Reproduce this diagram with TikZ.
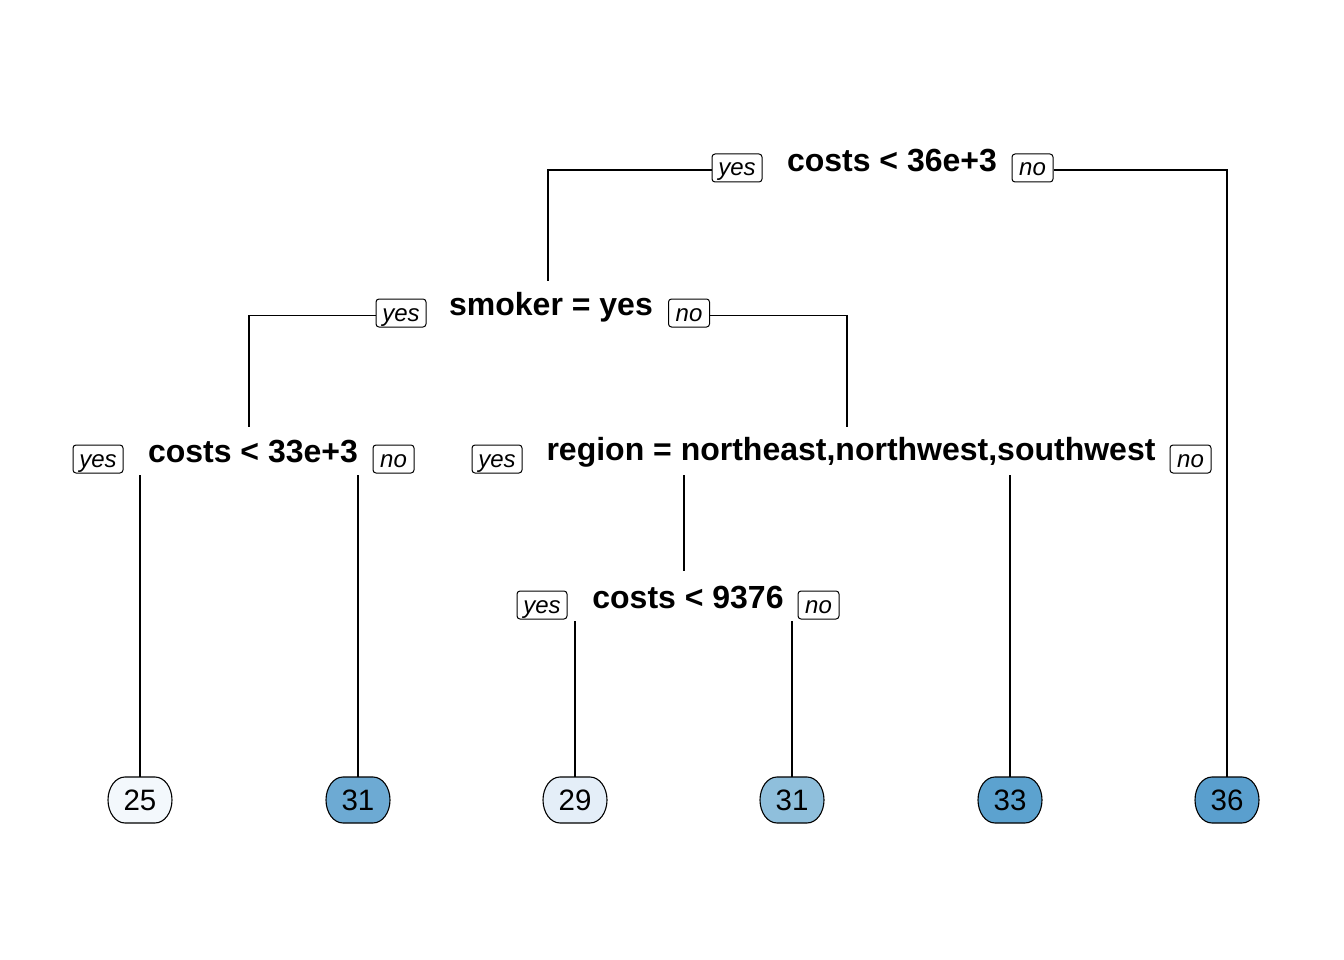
\documentclass[tikz,border=0pt]{standalone}
\usepackage{fontspec}
\setmainfont{Liberation Sans}
\definecolor{lf25}{HTML}{F3F8FC}
\definecolor{lf31a}{HTML}{6DAAD3}
\definecolor{lf29}{HTML}{E4EEF8}
\definecolor{lf31b}{HTML}{8FBFDC}
\definecolor{lf33}{HTML}{5CA2CF}
\definecolor{lf36}{HTML}{5A9FCE}
\tikzset{
  conn/.style={line width=1.1pt, black},
  split/.style={anchor=base, inner sep=0pt, font=\bfseries\fontsize{32}{34}\selectfont},
  ansbox/.style={draw, line width=1pt, rounded corners=3pt, inner xsep=0pt, inner ysep=0pt,
     text height=22pt, text depth=6pt, font=\itshape\fontsize{24}{26}\selectfont},
  yesbox/.style={ansbox, minimum width=50pt},
  nobox/.style={ansbox, minimum width=41pt},
  leaf/.style={minimum width=64pt, minimum height=46pt, inner sep=0pt, font=\fontsize{29.5}{31}\selectfont},
  leafshape/.style={draw, line width=1.1pt},
}
\newcommand\leafbox[3]{%
  \filldraw[leafshape, fill=#3] (#1-15,#2-23) -- (#1+15,#2-23)
    arc[start angle=270,end angle=360,x radius=17,y radius=23]
    arc[start angle=0,end angle=90,x radius=17,y radius=23] -- (#1-15,#2+23)
    arc[start angle=90,end angle=180,x radius=17,y radius=23]
    arc[start angle=180,end angle=270,x radius=17,y radius=23] -- cycle;}
\begin{document}
\begin{tikzpicture}[x=1pt,y=-1pt]
\useasboundingbox (0,0) rectangle (1344,960);
% split labels
\node[split] (s1) at (892,172) {costs < 36e+3};
\node[split] (s2) at (551,315) {smoker = yes};
\node[split] (s4) at (253,462) {costs < 33e+3};
\node[split] (s5) at (851,460) {region = northeast,northwest,southwest};
\node[split] (s11) at (688,608) {costs < 9376};
% yes/no boxes
\node[yesbox] (y1) at (737,168) {yes};
\node[nobox] (n1) at (1032.5,168) {no};
\node[yesbox] (y2) at (401,313) {yes};
\node[nobox] (n2) at (689,313) {no};
\node[yesbox] (y4) at (98,459) {yes};
\node[nobox] (n4) at (393.5,459) {no};
\node[yesbox] (y5) at (497,459) {yes};
\node[nobox] (n5) at (1190.5,459) {no};
\node[yesbox] (y11) at (542,605) {yes};
\node[nobox] (n11) at (818.5,605) {no};
% leaves
\leafbox{140}{800}{lf25}
\leafbox{358}{800}{lf31a}
\leafbox{575}{800}{lf29}
\leafbox{792}{800}{lf31b}
\leafbox{1010}{800}{lf33}
\leafbox{1227}{800}{lf36}
\node[leaf] (l25) at (140,800) {25};
\node[leaf] (l31a) at (358,800) {31};
\node[leaf] (l29) at (575,800) {29};
\node[leaf] (l31b) at (792,800) {31};
\node[leaf] (l33) at (1010,800) {33};
\node[leaf] (l36) at (1227,800) {36};
% branch coordinates
\coordinate (c2) at (548,281);
\coordinate (c4) at (249,427);
\coordinate (c5) at (847,427);
\coordinate (c4l) at (140,475);
\coordinate (c4r) at (358,475);
\coordinate (c5l) at (684,475);
\coordinate (c11) at (684,571);
\coordinate (c5r) at (1010,475);
\coordinate (c11l) at (575,621);
\coordinate (c11r) at (792,621);
% connectors
\draw[conn] ([yshift=-2pt]y1.west) -| (c2);
\draw[conn] ([yshift=-2pt]n1.east) -| (l36.north);
\draw[conn] ([yshift=-2.5pt]y2.west) -| (c4);
\draw[conn] ([yshift=-2.5pt]n2.east) -| (c5);
\draw[conn] (c4l) -- (l25.north);
\draw[conn] (c4r) -- (l31a.north);
\draw[conn] (c5l) -- (c11);
\draw[conn] (c5r) -- (l33.north);
\draw[conn] (c11l) -- (l29.north);
\draw[conn] (c11r) -- (l31b.north);
\end{tikzpicture}
\end{document}
